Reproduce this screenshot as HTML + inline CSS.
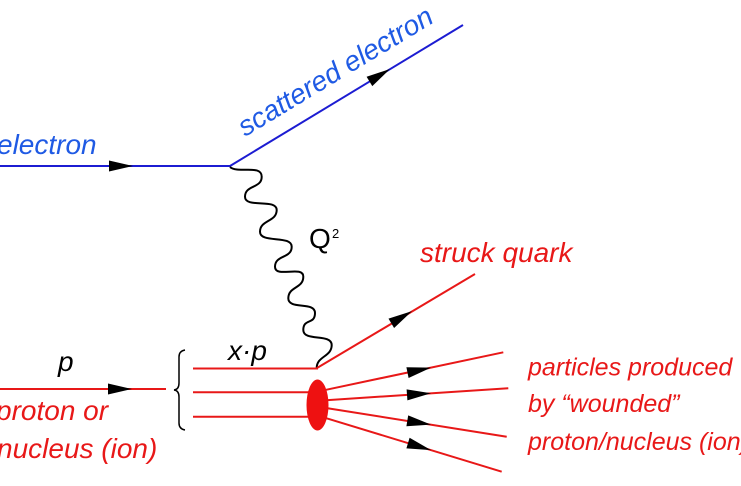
<!DOCTYPE html>
<html>
<head>
<meta charset="utf-8">
<style>
  html,body{margin:0;padding:0;background:#fff;}
  body{width:741px;height:486px;overflow:hidden;}
  svg{display:block;}
  text{font-family:"Liberation Sans", Arial, sans-serif;}
</style>
</head>
<body>
<svg width="741" height="486" viewBox="0 0 741 486" xmlns="http://www.w3.org/2000/svg">
  <rect width="741" height="486" fill="#fff"/>

  <!-- electron lines -->
  <line x1="0" y1="166" x2="231" y2="166" stroke="#1c1cd2" stroke-width="2"/>
  <line x1="230" y1="166" x2="463" y2="25" stroke="#1c1cd2" stroke-width="2"/>
  <polygon points="109,160.5 133,166 109,171.5" fill="#000"/>
  <polygon points="372.3,86.1 390,69 366.6,76.7" fill="#000"/>

  <!-- electron labels -->
  <text x="-3" y="154" font-size="28" font-style="italic" fill="#1f5ae4">electron</text>
  <text x="0" y="0" font-size="28" font-style="italic" fill="#1f5ae4" transform="translate(245,137) rotate(-31.2)">scattered electron</text>

  <!-- photon -->
  <path d="M230,167 C238,174 261.7,164 261.7,176.7
           C261.7,188.7 245,184.7 245,196.7
           C245,208.7 276.7,198 276.7,210
           C276.7,222 260,219.7 260,231.7
           C260,243.7 291.7,234.7 291.7,246.7
           C291.7,258.7 275,254.7 275,266.7
           C275,278.7 303.3,264.7 303.3,276.7
           C303.3,288.7 288.3,286.3 288.3,298.3
           C288.3,310.3 315,301 315,313
           C315,325 303.3,318 303.3,330
           C303.3,342 331.7,333 331.7,345
           C331.7,357 316.7,356 316.7,368"
        fill="none" stroke="#000" stroke-width="2"/>
  <text x="309" y="248" font-size="28" fill="#000">Q</text>
  <text x="332" y="238" font-size="13" fill="#000">2</text>

  <!-- proton incoming -->
  <line x1="0" y1="389" x2="166" y2="389" stroke="#e81818" stroke-width="2"/>
  <polygon points="108,383.5 132,389 108,394.5" fill="#000"/>
  <text x="58" y="371" font-size="28" font-style="italic" fill="#000">p</text>
  <text x="-4" y="420" font-size="28" font-style="italic" fill="#e81818">proton or</text>
  <text x="-3" y="458" font-size="28" font-style="italic" fill="#e81818">nucleus (ion)</text>

  <!-- brace -->
  <path d="M185,350 Q179,351 179,357 L179,383 Q179,389.5 174,390 Q179,390.5 179,397 L179,423 Q179,429 185,430"
        fill="none" stroke="#000" stroke-width="1.5"/>

  <!-- partons -->
  <line x1="193" y1="368.5" x2="318" y2="368.5" stroke="#e81818" stroke-width="2"/>
  <line x1="193" y1="392.3" x2="310" y2="392.3" stroke="#e81818" stroke-width="2"/>
  <line x1="193" y1="416.7" x2="310" y2="416.7" stroke="#e81818" stroke-width="2"/>
  <text x="228" y="360" font-size="28" font-style="italic" fill="#000">x·p</text>

  <!-- struck quark -->
  <line x1="317" y1="368" x2="475" y2="274" stroke="#e81818" stroke-width="2"/>
  <polygon points="394.1,328 412,311.1 388.5,318.6" fill="#000"/>
  <text x="420" y="262" font-size="28" font-style="italic" fill="#e81818">struck quark</text>

  <!-- fragments -->
  <line x1="326" y1="389.8" x2="503.3" y2="352.3" stroke="#e81818" stroke-width="2"/>
  <line x1="326" y1="400.2" x2="508.3" y2="388.3" stroke="#e81818" stroke-width="2"/>
  <line x1="326" y1="408" x2="506.7" y2="436.7" stroke="#e81818" stroke-width="2"/>
  <line x1="325" y1="417.8" x2="501.7" y2="471.7" stroke="#e81818" stroke-width="2"/>
  <polygon points="408.6,378 431,367.6 406.4,367.2" fill="#000"/>
  <polygon points="407.4,400.4 431,393.3 406.6,389.4" fill="#000"/>
  <polygon points="406.4,426.2 431,424.6 408.2,415.4" fill="#000"/>
  <polygon points="406.4,448.4 431,450.1 409.6,437.8" fill="#000"/>

  <ellipse cx="317.5" cy="405" rx="11" ry="25.5" fill="#ee1111"/>

  <text x="528" y="375.5" font-size="25" font-style="italic" fill="#e81818">particles produced</text>
  <text x="528" y="412" font-size="25" font-style="italic" fill="#e81818">by “wounded”</text>
  <text x="528" y="450" font-size="25" font-style="italic" fill="#e81818">proton/nucleus (ion)</text>
</svg>
</body>
</html>
